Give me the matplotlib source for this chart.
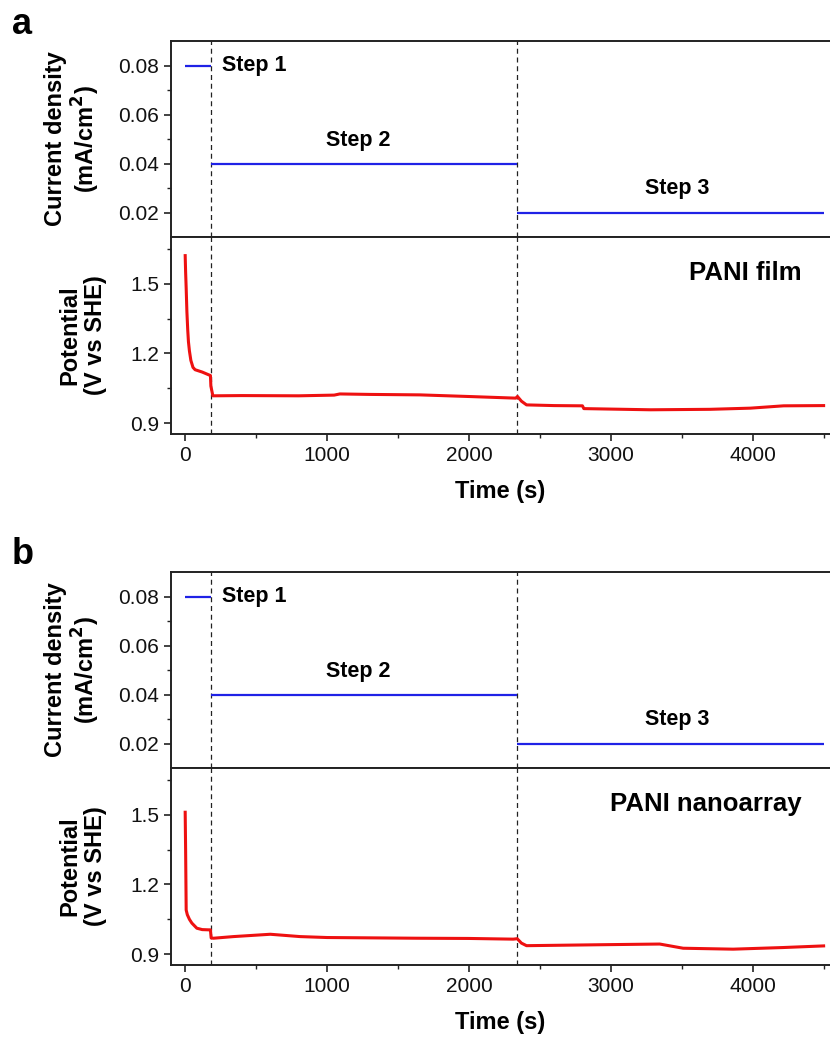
import matplotlib
matplotlib.use("Agg")
import matplotlib.pyplot as plt
from matplotlib.ticker import FixedLocator, MultipleLocator

plt.rcParams['font.family'] = ['Liberation Sans', 'DejaVu Sans']

# ---- data ----
step_t = [0, 180, 2340, 4500]          # step boundaries (s)
step_j = [0.08, 0.04, 0.02]            # current density (mA/cm2)
step_names = ["Step 1", "Step 2", "Step 3"]

t_film = [0, 3, 7, 12, 18, 23, 30, 40, 55, 70, 120, 178, 181, 195, 400, 800, 1050, 1090, 1300,
          1655, 2000, 2330, 2342, 2370, 2406, 2600, 2800, 2810, 3280, 3700, 3984, 4218, 4500]
v_film = [1.62, 1.55, 1.48, 1.38, 1.30, 1.25, 1.21, 1.17, 1.14, 1.13, 1.12, 1.105, 1.06, 1.018,
          1.019, 1.018, 1.021, 1.026, 1.024, 1.022, 1.015, 1.008, 1.015, 0.995, 0.979, 0.976,
          0.975, 0.963, 0.958, 0.960, 0.965, 0.975, 0.976]

t_nano = [0, 3, 7, 15, 30, 47, 82, 120, 165, 178, 183, 200, 340, 600, 810, 1000, 1630,
          2000, 2313, 2340, 2370, 2406, 2922, 3345, 3510, 3862, 4214, 4500]
v_nano = [1.51, 1.35, 1.09, 1.07, 1.05, 1.034, 1.012, 1.006, 1.005, 1.005, 0.97, 0.969,
          0.976, 0.986, 0.976, 0.972, 0.969, 0.968, 0.965, 0.967, 0.948, 0.937, 0.941,
          0.944, 0.926, 0.922, 0.929, 0.936]

samples = [("a", "PANI film", t_film, v_film), ("b", "PANI nanoarray", t_nano, v_nano)]

fig = plt.figure(figsize=(8.3, 10.45), dpi=100)

W, H = 830.0, 1045.0
left = 171 / W
width = 1.0 - left
panel_tops = [41, 572]  # pixel y of top of current axes
hc = 196
hp = 197

blue = '#1f22e6'
red = '#ee1111'
spine_c = '#222222'
tick_fs = 15
lab_fs = 17
step_fs = 15.5

for (letter, name, tt, vv), top in zip(samples, panel_tops):
    ax1 = fig.add_axes([left, 1 - (top + hc) / H, width, hc / H])
    ax2 = fig.add_axes([left, 1 - (top + hc + hp) / H, width, hp / H], sharex=ax1)

    for ax in (ax1, ax2):
        ax.spines['right'].set_visible(False)
        for s in ('left', 'top', 'bottom'):
            ax.spines[s].set_linewidth(1.4)
            ax.spines[s].set_color(spine_c)
        ax.tick_params(axis='both', which='major', direction='out', length=5, width=1.2,
                       labelsize=tick_fs, color=spine_c, labelcolor='#111111')
        ax.tick_params(axis='both', which='minor', direction='out', length=3, width=1.0,
                       color=spine_c)
        for tb in step_t[1:3]:
            ax.axvline(tb, color='#222222', lw=0.9, ls=(0, (4, 3)), zorder=1)

    ax1.set_xlim(-100, 4545)
    # current axes
    ax1.hlines(step_j, step_t[:-1], step_t[1:], colors=blue, lw=1.6, zorder=3)
    ax1.set_ylim(0.01, 0.09)
    ax1.yaxis.set_major_locator(FixedLocator([0.02, 0.04, 0.06, 0.08]))
    ax1.yaxis.set_minor_locator(FixedLocator([0.03, 0.05, 0.07]))
    ax1.set_yticklabels(['0.02', '0.04', '0.06', '0.08'])
    ax1.tick_params(axis='x', which='both', bottom=False, labelbottom=False)
    ax1.set_ylabel("Current density\n(mA/cm$^\\mathbf{2}$)", fontsize=lab_fs,
                   fontweight='bold', linespacing=1.15)
    ax1.yaxis.set_label_coords(-0.104, 0.5)

    ax1.text(260, step_j[0], step_names[0], fontsize=step_fs, fontweight='bold',
             ha='left', va='center')
    ax1.text(1218, 0.0494, step_names[1], fontsize=step_fs, fontweight='bold',
             ha='center', va='center')
    ax1.text(3468, 0.0298, step_names[2], fontsize=step_fs, fontweight='bold',
             ha='center', va='center')

    # potential axes
    ax2.plot(tt, vv, color=red, lw=2.2, zorder=3)
    ax2.set_ylim(0.854, 1.70)
    ax2.yaxis.set_major_locator(FixedLocator([0.9, 1.2, 1.5]))
    ax2.yaxis.set_minor_locator(FixedLocator([1.05, 1.35, 1.65]))
    ax2.set_yticklabels(['0.9', '1.2', '1.5'])
    ax2.xaxis.set_major_locator(MultipleLocator(1000))
    ax2.xaxis.set_minor_locator(MultipleLocator(500))
    ax2.set_ylabel("Potential\n(V vs SHE)", fontsize=lab_fs, fontweight='bold',
                   linespacing=1.15)
    ax2.yaxis.set_label_coords(-0.097, 0.5)
    ax2.set_xlabel("Time (s)", fontsize=lab_fs, fontweight='bold', labelpad=11)
    ax2.text(0.957, 0.815, name, transform=ax2.transAxes, fontsize=18.5, fontweight='bold',
             ha='right', va='center')

    fig.text(12 / W, 1 - (top - 17) / H, letter, fontsize=26, fontweight='bold',
             ha='left', va='center')

fig.savefig("out.png", dpi=100)
